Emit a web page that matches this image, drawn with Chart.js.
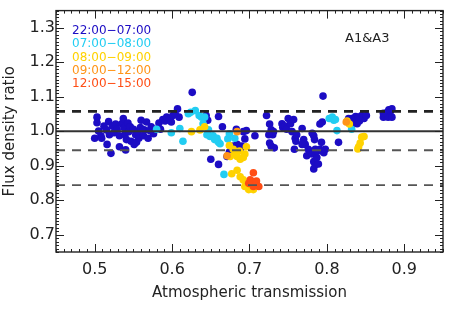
<!DOCTYPE html>
<html>
<head>
<meta charset="utf-8">
<script src="https://cdn.jsdelivr.net/npm/chart.js@4/dist/chart.umd.min.js"></script>
<style>
  html, body { margin: 0; padding: 0; background: #fff; }
  #wrap { width: 449px; height: 312px; }
</style>
</head>
<body>
<div id="wrap"><canvas id="c" width="449" height="312"></canvas></div>
<script>
// axis ticks
const xTicks = [0.5, 0.6, 0.7, 0.8, 0.9];
const yTicks = [0.7, 0.8, 0.9, 1.0, 1.1, 1.2, 1.3];

// reference lines (ratio)
const solidLine = 1.0;
const dashLines = [1.058, 0.945, 0.844];

// time bins
const labels = ['22:00\u221207:00', '07:00\u221208:00', '08:00\u221209:00', '09:00\u221212:00', '12:00\u221215:00'];
const colors = ['#1c0cc4', '#22cdf2', '#ffd200', '#ff9418', '#ff4d14'];

// [transmission, ratio] per time bin
const night = [
  [0.500,0.980],[0.503,1.041],[0.503,1.025],[0.505,1.001],[0.508,0.987],[0.509,0.980],[0.512,1.015],
  [0.515,1.004],[0.516,0.962],[0.518,1.028],[0.521,0.936],[0.519,0.990],[0.523,1.015],[0.525,0.996],
  [0.527,1.021],[0.529,1.006],[0.532,0.955],[0.532,0.987],[0.535,1.022],[0.537,1.037],[0.538,1.011],
  [0.539,0.990],[0.540,0.946],[0.541,0.976],[0.543,1.024],[0.544,0.999],[0.546,1.013],[0.547,0.971],
  [0.550,1.006],[0.551,0.962],[0.553,0.990],[0.554,0.968],[0.556,0.999],[0.557,0.980],[0.559,1.011],
  [0.560,1.032],[0.563,0.987],[0.564,1.004],[0.567,1.027],[0.569,0.980],[0.571,1.002],[0.573,1.013],
  [0.576,0.993],[0.578,1.006],[0.583,1.024],[0.585,1.006],[0.588,1.034],[0.591,1.030],[0.593,1.041],
  [0.596,1.037],[0.599,1.027],[0.601,1.046],[0.604,1.051],[0.607,1.065],[0.609,1.041],[0.626,1.113],
  [0.644,1.046],[0.646,1.032],[0.660,1.043],[0.665,1.013],[0.650,0.919],[0.660,0.904],[0.674,0.940],
  [0.683,1.006],[0.692,0.999],[0.696,1.002],[0.707,0.987],[0.694,0.978],[0.684,0.962],[0.690,0.957],
  [0.671,0.927],[0.688,0.948],[0.679,0.957],
  [0.722,1.046],[0.726,1.021],[0.728,1.004],[0.730,0.990],[0.731,0.999],[0.725,0.990],[0.726,0.966],
  [0.728,0.957],[0.732,0.952],[0.742,1.022],[0.743,1.011],[0.746,1.015],[0.748,1.006],[0.750,1.037],
  [0.753,1.022],[0.755,0.999],[0.757,1.034],[0.759,0.980],[0.760,0.971],[0.758,0.948],[0.761,0.990],
  [0.768,1.008],[0.770,0.976],[0.772,0.962],[0.768,0.962],[0.774,0.929],[0.776,0.948],[0.778,0.943],
  [0.781,0.934],[0.783,0.912],[0.783,0.891],[0.785,0.903],[0.787,0.924],[0.789,0.905],[0.791,0.948],
  [0.793,0.968],[0.794,1.027],[0.791,1.021],[0.783,0.987],[0.784,0.976],[0.781,0.994],[0.785,0.948],
  [0.788,0.943],[0.794,0.943],[0.796,0.938],[0.798,0.948],[0.795,1.102],[0.815,0.968],
  [0.828,1.037],[0.830,1.030],[0.832,1.037],[0.835,1.027],[0.837,1.043],[0.839,1.022],[0.842,1.030],
  [0.845,1.046],[0.848,1.037],[0.841,1.041],[0.851,1.046],[0.832,1.018],
  [0.873,1.041],[0.876,1.051],[0.878,1.055],[0.880,1.062],[0.882,1.058],[0.884,1.065],[0.879,1.041],
  [0.884,1.041],[0.873,1.052]
];
const early = [
  [0.580,1.006],[0.599,0.996],[0.610,1.008],[0.614,0.971],[0.621,1.051],[0.624,1.055],[0.630,1.060],
  [0.635,1.046],[0.638,1.041],[0.642,1.041],[0.645,0.990],[0.647,1.004],[0.649,0.985],[0.653,0.987],
  [0.658,0.980],[0.660,0.968],[0.662,0.964],[0.655,0.976],[0.640,1.022],[0.667,0.875],[0.672,0.978],
  [0.674,0.993],[0.681,0.980],[0.803,1.037],[0.807,1.041],[0.809,1.032],[0.811,1.034],[0.813,1.002],
  [0.832,1.006]
];
const morning = [
  [0.625,0.999],[0.636,1.004],[0.642,1.013],[0.674,0.959],[0.679,0.948],[0.681,0.934],[0.684,0.927],
  [0.688,0.919],[0.692,0.924],[0.696,0.955],[0.694,0.934],[0.687,0.943],[0.675,0.927],[0.677,0.877],
  [0.684,0.887],[0.688,0.868],[0.694,0.840],[0.699,0.831],[0.701,0.845],[0.705,0.831],[0.696,0.849],
  [0.692,0.859],[0.826,1.030],[0.829,1.021],[0.840,0.949],[0.841,0.955],[0.843,0.966],[0.845,0.983],
  [0.848,0.985]
];
const midday = [[0.684,0.999],[0.671,0.929],[0.825,1.027]];
const afternoon = [
  [0.705,0.880],[0.701,0.859],[0.703,0.854],[0.707,0.849],[0.709,0.845],[0.712,0.840],[0.705,0.840],
  [0.699,0.849],[0.709,0.856]
];

const groups = [night, early, morning, midday, afternoon];
const xMin = 0.45, xMax = 0.95, yMin = 0.65, yMax = 1.35;

const toPts = arr => arr.map(p => ({ x: p[0], y: p[1] }));
const hline = v => [{ x: xMin, y: v }, { x: xMax, y: v }];

const datasets = groups.map((g, i) => ({
  label: labels[i],
  data: toPts(g),
  showLine: false,
  pointRadius: 3.8,
  pointBorderWidth: 0,
  pointBackgroundColor: colors[i],
  order: 10 - i
}));

datasets.push({
  data: hline(solidLine), showLine: true, pointRadius: 0,
  borderColor: '#333', borderWidth: 2, order: 0
});
dashLines.forEach((v, i) => {
  datasets.push({
    data: hline(v), showLine: true, pointRadius: 0,
    borderColor: i === 0 ? '#222' : '#555', borderWidth: i === 0 ? 2.8 : 1.8,
    borderDash: [9, 7], order: 0
  });
});

// frame, inside major/minor ticks, legend text, label
const idlFrame = {
  id: 'idlFrame',
  afterDatasetsDraw(chart) {
    const { ctx, chartArea: a, scales: { x, y } } = chart;
    ctx.save();
    ctx.strokeStyle = '#222';
    ctx.lineWidth = 1.4;
    ctx.strokeRect(a.left, a.top, a.right - a.left, a.bottom - a.top);
    ctx.lineWidth = 1;
    ctx.beginPath();
    for (let i = 45; i <= 95; i++) {
      const px = Math.round(x.getPixelForValue(i / 100)) + 0.5;
      const len = i % 10 === 0 ? 8 : 3;
      ctx.moveTo(px, a.bottom); ctx.lineTo(px, a.bottom - len);
      ctx.moveTo(px, a.top); ctx.lineTo(px, a.top + len);
    }
    for (let i = 65; i <= 135; i++) {
      const py = Math.round(y.getPixelForValue(i / 100)) + 0.5;
      const len = i % 10 === 0 ? 8 : 3;
      ctx.moveTo(a.left, py); ctx.lineTo(a.left + len, py);
      ctx.moveTo(a.right, py); ctx.lineTo(a.right - len, py);
    }
    ctx.stroke();

    ctx.font = '12px "DejaVu Sans"';
    ctx.textBaseline = 'middle';
    ctx.textAlign = 'left';
    labels.forEach((t, i) => {
      ctx.fillStyle = colors[i];
      ctx.fillText(t, a.left + 16, a.top + 20 + i * 13.4);
    });
    ctx.fillStyle = '#222';
    ctx.font = '13px "DejaVu Sans"';
    ctx.fillText('A1&A3', a.left + 289, a.top + 28);
    ctx.restore();
  }
};

new Chart(document.getElementById('c'), {
  type: 'scatter',
  data: { datasets },
  options: {
    responsive: false,
    animation: false,
    layout: { padding: { top: 4, right: 6, left: 0, bottom: 0 } },
    plugins: { legend: { display: false }, tooltip: { enabled: false } },
    scales: {
      x: {
        type: 'linear', min: xMin, max: xMax,
        afterBuildTicks: s => { s.ticks = xTicks.map(v => ({ value: v })); },
        afterFit: s => { s.height = 60; },
        grid: { display: false, drawTicks: false },
        border: { display: false },
        ticks: { color: '#222', padding: 8, font: { family: 'DejaVu Sans', size: 16 }, callback: v => v.toFixed(1) },
        title: { display: true, text: 'Atmospheric transmission', color: '#222', font: { family: 'DejaVu Sans', size: 15 }, padding: { top: 0, bottom: 10 } }
      },
      y: {
        type: 'linear', min: yMin, max: yMax,
        afterBuildTicks: s => { s.ticks = yTicks.map(v => ({ value: v })); },
        afterFit: s => { s.width = 56; },
        grid: { display: false, drawTicks: false },
        border: { display: false },
        ticks: { color: '#222', padding: 1, font: { family: 'DejaVu Sans', size: 16 }, callback: v => v.toFixed(1) },
        title: { display: true, text: 'Flux density ratio', color: '#222', font: { family: 'DejaVu Sans', size: 15 }, padding: { top: 1, bottom: 0 } }
      }
    }
  },
  plugins: [idlFrame]
});
</script>
</body>
</html>
